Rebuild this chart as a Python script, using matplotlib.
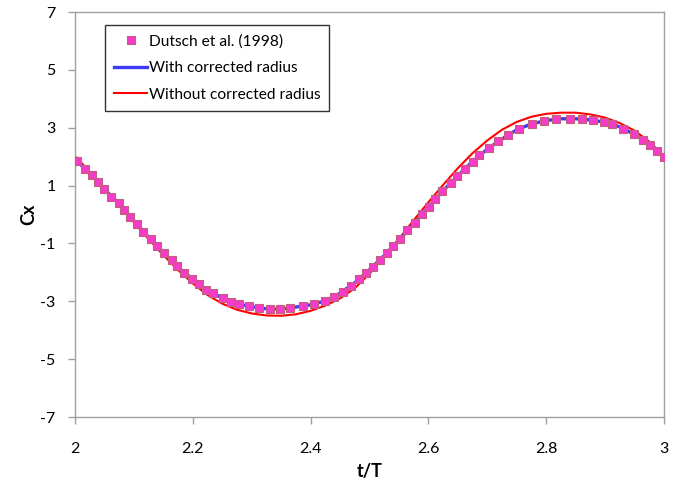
import matplotlib
matplotlib.use("Agg")
import matplotlib.pyplot as plt

plt.rcParams["font.family"] = ["Lato", "DejaVu Sans"]
plt.rcParams["axes.unicode_minus"] = False

# Dutsch et al. (1998) - 실험 데이터 (마커)
exp_t = [2.003, 2.017, 2.029, 2.040, 2.050, 2.061, 2.074, 2.084, 2.093, 2.106,
         2.116, 2.129, 2.139, 2.152, 2.164, 2.173, 2.186, 2.199, 2.211, 2.222,
         2.235, 2.251, 2.265, 2.278, 2.295, 2.313, 2.331, 2.348, 2.365, 2.387,
         2.406, 2.424, 2.440, 2.455, 2.468, 2.483, 2.495, 2.506, 2.518, 2.529,
         2.540, 2.552, 2.563, 2.578, 2.589, 2.601, 2.611, 2.624, 2.638, 2.649,
         2.662, 2.675, 2.686, 2.703, 2.719, 2.735, 2.754, 2.776, 2.797, 2.817,
         2.840, 2.861, 2.880, 2.898, 2.912, 2.931, 2.949, 2.964, 2.977, 2.989,
         3.000]
exp_cx = [1.86, 1.59, 1.36, 1.13, 0.87, 0.62, 0.40, 0.16, -0.07, -0.34,
          -0.60, -0.86, -1.09, -1.34, -1.58, -1.78, -2.01, -2.24, -2.40, -2.61,
          -2.73, -2.89, -3.01, -3.10, -3.16, -3.24, -3.27, -3.27, -3.23, -3.16,
          -3.10, -3.00, -2.84, -2.68, -2.46, -2.24, -2.01, -1.80, -1.58, -1.32,
          -1.09, -0.84, -0.54, -0.29, 0.01, 0.27, 0.52, 0.80, 1.09, 1.32,
          1.58, 1.83, 2.06, 2.30, 2.53, 2.76, 2.97, 3.14, 3.24, 3.30,
          3.31, 3.30, 3.25, 3.20, 3.13, 2.97, 2.78, 2.58, 2.39, 2.18,
          1.99]

# 시뮬레이션 결과 (선)
sim_t = [2.000, 2.025, 2.050, 2.075, 2.100, 2.125, 2.150, 2.175, 2.200, 2.225,
         2.250, 2.275, 2.300, 2.325, 2.350, 2.375, 2.400, 2.425, 2.450, 2.475,
         2.500, 2.525, 2.550, 2.575, 2.600, 2.625, 2.650, 2.675, 2.700, 2.725,
         2.750, 2.775, 2.800, 2.825, 2.850, 2.875, 2.900, 2.925, 2.950, 2.975,
         3.000]
cx_corrected = [1.90, 1.44, 0.87, 0.38, -0.21, -0.78, -1.30, -1.82, -2.24, -2.64,
                -2.88, -3.08, -3.19, -3.26, -3.27, -3.20, -3.12, -2.99, -2.72, -2.36,
                -1.91, -1.42, -0.88, -0.34, 0.25, 0.82, 1.34, 1.83, 2.26, 2.61,
                2.93, 3.13, 3.25, 3.31, 3.31, 3.27, 3.19, 3.03, 2.77, 2.42,
                1.99]
cx_uncorrected = [2.02, 1.48, 0.90, 0.33, -0.27, -0.85, -1.40, -1.92, -2.38, -2.78,
                  -3.08, -3.29, -3.42, -3.49, -3.50, -3.45, -3.33, -3.15, -2.90, -2.55,
                  -2.05, -1.45, -0.85, -0.20, 0.42, 1.02, 1.60, 2.12, 2.56, 2.93,
                  3.20, 3.38, 3.48, 3.52, 3.52, 3.46, 3.35, 3.16, 2.90, 2.52,
                  2.02]

x_ticks = [2, 2.2, 2.4, 2.6, 2.8, 3]
x_ticklabels = ["2", "2.2", "2.4", "2.6", "2.8", "3"]
y_ticks = [-7, -5, -3, -1, 1, 3, 5, 7]

fig = plt.figure(figsize=(6.81, 4.84), dpi=100)
ax = fig.add_axes([0.110, 0.1384, 0.865, 0.8368])

ax.plot(exp_t, exp_cx, linestyle="None", marker="s", markersize=6,
        markerfacecolor="#F53CC8", markeredgecolor="#C0607A", markeredgewidth=0.8,
        label="Dutsch et al. (1998)", zorder=4)
ax.plot(sim_t, cx_corrected, color="#3B3BF5", lw=2.4,
        label="With corrected radius", zorder=3)
ax.plot(sim_t, cx_uncorrected, color="#FF0000", lw=1.5,
        label="Without corrected radius", zorder=2)

ax.set_xlim(2, 3)
ax.set_ylim(-7, 7)
ax.set_xticks(x_ticks)
ax.set_xticklabels(x_ticklabels)
ax.set_yticks(y_ticks)

for sp in ax.spines.values():
    sp.set_color("#A0A0A0")
    sp.set_linewidth(1.0)
ax.tick_params(axis="both", direction="out", length=5, width=1, color="#A0A0A0",
               labelsize=11.5, labelcolor="black")
ax.tick_params(axis="x", pad=13)
ax.tick_params(axis="y", pad=9)

ax.set_xlabel("t/T", fontsize=13, fontweight="bold", labelpad=5)
ax.set_ylabel("Cx", fontsize=13, fontweight="bold", labelpad=2)

leg = ax.legend(loc="upper left", bbox_to_anchor=(0.051, 0.968), borderaxespad=0,
                fontsize=11.2, frameon=True, fancybox=False, handlelength=2.1,
                handletextpad=0.1, labelspacing=0.8, borderpad=0.6)
leg.get_frame().set_edgecolor("black")
leg.get_frame().set_linewidth(1.0)

fig.savefig("out.png", dpi=100)
